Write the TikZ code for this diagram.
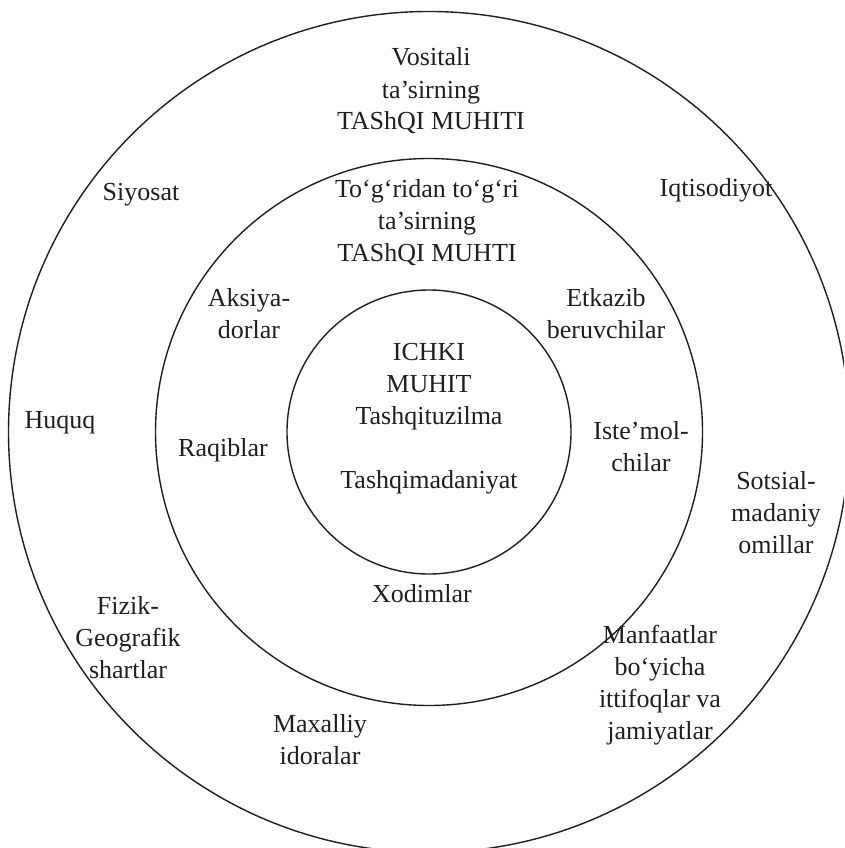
\documentclass[tikz,border=0pt]{standalone}
\usepackage{fontspec}
\setmainfont{Liberation Serif}
\begin{document}
\begin{tikzpicture}[x=1pt,y=-1pt,
  ring/.style={draw=black!88, line width=1.4pt},
  lbl/.style={align=center, anchor=base, inner sep=0pt, text=black!88,
    font=\fontsize{26}{32}\selectfont}]
\useasboundingbox (0,0) rectangle (844,848);
\clip (0,0) rectangle (844,848);
\coordinate (c) at (429,432);
% three concentric environments
\draw[ring] (c) circle[radius=420.5];
\draw[ring] (c) circle[radius=273.5];
\draw[ring] (c) circle[radius=142];
% outer ring: indirect environment (nodes anchored at the last line's baseline)
\node[lbl] (outer) at (431,130) {Vositali\\ta’sirning\\TAShQI MUHITI};
\node[lbl] (siyosat) at (141,200) {Siyosat};
\node[lbl] (iqtisod) at (716,196) {Iqtisodiyot};
\node[lbl] (huquq) at (60,428) {Huquq};
\node[lbl] (sotsial) at (776,553) {Sotsial-\\madaniy\\omillar};
\node[lbl] (fizik) at (128,678) {Fizik-\\Geografik\\shartlar};
\node[lbl] (maxalliy) at (320,764) {Maxalliy\\idoralar};
\node[lbl] (manfaat) at (660,739) {Manfaatlar\\bo‘yicha\\ittifoqlar va\\jamiyatlar};
% middle ring: direct environment
\node[lbl] (middle) at (427,261) {To‘g‘ridan to‘g‘ri\\ta’sirning\\TAShQI MUHTI};
\node[lbl] (aksiya) at (249,338) {Aksiya-\\dorlar};
\node[lbl] (etkazib) at (606,338) {Etkazib\\beruvchilar};
\node[lbl] (raqib) at (223,456) {Raqiblar};
\node[lbl] (istemol) at (641,471) {Iste’mol-\\chilar};
\node[lbl] (xodim) at (422,602) {Xodimlar};
% inner circle: internal environment
\node[lbl] (inner) at (429,488) {ICHKI\\MUHIT\\Tashqituzilma\\[32pt]Tashqimadaniyat};
\end{tikzpicture}
\end{document}
